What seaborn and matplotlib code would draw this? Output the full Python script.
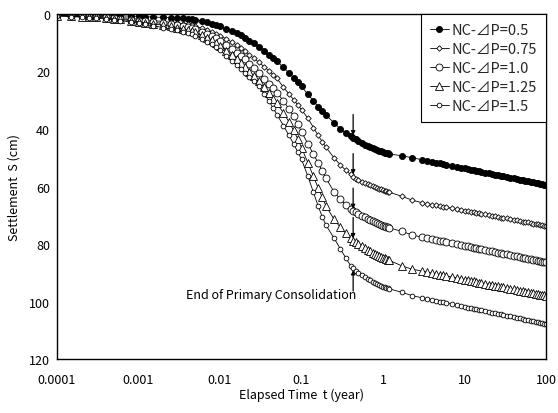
import matplotlib
matplotlib.use("Agg")
import matplotlib.pyplot as plt
import seaborn as sns
import pandas as pd

# Elapsed time (year), shared by every loading case
time_yr = [
    0.0001, 0.00015, 0.0002, 0.00025, 0.0003, 0.0004, 0.0005, 0.0006, 0.0008, 0.001,
    0.0012, 0.0015, 0.002, 0.0025, 0.003, 0.0035, 0.004, 0.0045, 0.005, 0.006,
    0.007, 0.008, 0.009, 0.01, 0.012, 0.014, 0.016, 0.018, 0.02, 0.023,
    0.026, 0.03, 0.035, 0.04, 0.045, 0.05, 0.06, 0.07, 0.08, 0.09,
    0.1, 0.12, 0.14, 0.16, 0.18, 0.2, 0.25, 0.3, 0.35, 0.4,
    0.43, 0.46, 0.5, 0.55, 0.6, 0.65, 0.7, 0.75, 0.8, 0.85,
    0.9, 0.95, 1.0, 1.05, 1.1, 1.15, 1.2, 1.7, 2.3, 3,
    3.5, 4, 4.5, 5, 5.5, 6, 7, 8, 9, 10,
    11, 12, 13, 14, 15, 16, 18, 20, 22, 24,
    26, 28, 30, 33, 36, 40, 44, 48, 52, 56,
    60, 65, 70, 75, 80, 85, 90, 95, 100,
]

# Settlement S (cm) for each load increment
s_dp_050 = [
    0.3, 0.35, 0.4, 0.45, 0.5, 0.55, 0.6, 0.65, 0.75, 0.85,
    0.95, 1.05, 1.2, 1.3, 1.45, 1.55, 1.65, 1.8, 2.0, 2.4,
    2.9, 3.4, 3.9, 4.3, 5.2, 6.0, 6.7, 7.4, 8.2, 9.3,
    10.2, 11.4, 12.9, 14.2, 15.4, 16.5, 18.6, 20.5, 22.2, 23.8,
    25.2, 28.0, 30.2, 32.2, 33.8, 35.2, 37.8, 40.0, 41.5, 42.5,
    43.0, 43.5, 44.1, 44.8, 45.4, 45.9, 46.3, 46.7, 47.0, 47.3,
    47.6, 47.8, 48.0, 48.2, 48.4, 48.5, 48.7, 49.3, 50.0, 50.7,
    51.1, 51.4, 51.7, 52.0, 52.2, 52.4, 52.8, 53.1, 53.4, 53.7,
    53.9, 54.2, 54.4, 54.5, 54.7, 54.9, 55.2, 55.4, 55.7, 55.9,
    56.1, 56.3, 56.5, 56.7, 56.9, 57.2, 57.4, 57.7, 57.9, 58.0,
    58.2, 58.4, 58.6, 58.8, 58.9, 59.1, 59.2, 59.4, 59.5,
]
s_dp_075 = [
    0.4, 0.5, 0.6, 0.7, 0.8, 1.0, 1.1, 1.25, 1.5, 1.8,
    2.0, 2.3, 2.6, 2.9, 3.2, 3.4, 3.6, 3.9, 4.3, 5.0,
    5.7, 6.3, 6.9, 7.5, 8.7, 9.8, 10.8, 11.8, 12.8, 14.2,
    15.4, 16.8, 18.4, 19.8, 21.1, 22.4, 25.5, 27.8, 29.8, 31.6,
    33.3, 36.3, 39.5, 42.2, 44.5, 46.4, 50.0, 52.5, 54.4, 55.8,
    56.6, 57.3, 57.8, 58.3, 58.8, 59.2, 59.6, 59.9, 60.2, 60.5,
    60.8, 61.0, 61.2, 61.4, 61.6, 61.8, 62.0, 63.4, 64.8, 65.6,
    66.0, 66.3, 66.5, 66.8, 67.0, 67.2, 67.6, 67.9, 68.1, 68.4,
    68.6, 68.8, 69.0, 69.2, 69.3, 69.5, 69.7, 70.0, 70.2, 70.4,
    70.6, 70.8, 70.9, 71.1, 71.3, 71.6, 71.8, 72.0, 72.2, 72.4,
    72.5, 72.7, 72.9, 73.0, 73.2, 73.3, 73.5, 73.6, 73.7,
]
s_dp_100 = [
    0.5, 0.65, 0.8, 0.9, 1.0, 1.2, 1.4, 1.6, 2.0, 2.3,
    2.6, 2.9, 3.3, 3.6, 3.9, 4.2, 4.4, 4.8, 5.3, 6.1,
    6.9, 7.7, 8.5, 9.3, 10.8, 12.2, 13.4, 14.6, 15.8, 17.4,
    18.9, 20.6, 22.6, 24.3, 25.9, 27.4, 30.2, 33.0, 35.5, 38.2,
    41.0, 45.2, 48.8, 51.8, 54.6, 57.2, 61.8, 64.5, 66.3, 67.8,
    68.6, 69.0, 69.5, 70.1, 70.7, 71.2, 71.6, 72.0, 72.4, 72.7,
    73.0, 73.3, 73.6, 73.8, 74.0, 74.2, 74.4, 75.6, 76.9, 77.6,
    78.0, 78.3, 78.6, 78.9, 79.1, 79.3, 79.7, 80.0, 80.3, 80.6,
    80.8, 81.1, 81.3, 81.4, 81.6, 81.8, 82.1, 82.3, 82.6, 82.8,
    83.0, 83.2, 83.4, 83.6, 83.8, 84.1, 84.3, 84.6, 84.8, 84.9,
    85.1, 85.3, 85.5, 85.7, 85.8, 86.0, 86.1, 86.3, 86.4,
]
s_dp_125 = [
    0.6, 0.8, 0.95, 1.1, 1.2, 1.45, 1.7, 1.9, 2.3, 2.7,
    3.0, 3.4, 3.9, 4.3, 4.7, 5.1, 5.5, 5.9, 6.4, 7.4,
    8.3, 9.2, 10.1, 11.0, 12.8, 14.4, 15.8, 17.2, 18.4, 20.1,
    21.6, 23.4, 25.5, 27.5, 29.4, 31.1, 34.4, 37.5, 40.5, 43.5,
    46.5, 51.8, 56.5, 60.5, 63.8, 66.8, 71.4, 74.2, 76.3, 78.0,
    78.8, 79.4, 80.0, 80.7, 81.4, 82.0, 82.5, 83.0, 83.4, 83.8,
    84.1, 84.4, 84.7, 85.0, 85.3, 85.5, 85.7, 87.6, 88.8, 89.4,
    89.8, 90.1, 90.4, 90.7, 90.9, 91.1, 91.5, 91.8, 92.1, 92.4,
    92.6, 92.8, 93.0, 93.2, 93.4, 93.5, 93.8, 94.1, 94.3, 94.5,
    94.7, 94.9, 95.1, 95.3, 95.5, 95.8, 96.0, 96.2, 96.4, 96.6,
    96.8, 97.0, 97.1, 97.3, 97.5, 97.6, 97.7, 97.9, 98.0,
]
s_dp_150 = [
    0.7, 0.9, 1.1, 1.3, 1.45, 1.75, 2.0, 2.3, 2.8, 3.2,
    3.6, 4.1, 4.7, 5.2, 5.7, 6.1, 6.6, 7.1, 7.6, 8.6,
    9.6, 10.6, 11.6, 12.6, 14.6, 16.3, 17.8, 19.2, 20.4, 22.0,
    23.4, 25.2, 27.8, 30.4, 32.8, 35.0, 38.8, 42.2, 45.2, 48.0,
    50.6, 56.5, 62.0, 66.8, 70.6, 73.5, 77.9, 81.7, 84.9, 87.5,
    88.5, 89.4, 90.1, 90.8, 91.5, 92.1, 92.6, 93.1, 93.5, 93.9,
    94.2, 94.5, 94.8, 95.0, 95.2, 95.4, 95.6, 96.8, 98.0, 98.7,
    99.1, 99.4, 99.7, 100.0, 100.3, 100.5, 100.9, 101.2, 101.5, 101.8,
    102.1, 102.3, 102.5, 102.7, 102.9, 103.0, 103.3, 103.6, 103.9, 104.1,
    104.3, 104.5, 104.7, 104.9, 105.1, 105.4, 105.7, 105.9, 106.1, 106.3,
    106.5, 106.7, 106.9, 107.0, 107.2, 107.4, 107.5, 107.7, 107.8,
]

series_labels = ["NC-⊿P=0.5", "NC-⊿P=0.75", "NC-⊿P=1.0", "NC-⊿P=1.25", "NC-⊿P=1.5"]
series_values = [s_dp_050, s_dp_075, s_dp_100, s_dp_125, s_dp_150]

# End of primary consolidation (year)
eop_time = 0.43

x_ticks = [0.0001, 0.001, 0.01, 0.1, 1, 10, 100]
x_tick_labels = ["0.0001", "0.001", "0.01", "0.1", "1", "10", "100"]
y_ticks = [0, 20, 40, 60, 80, 100, 120]

sns.set_theme(style="white")
plt.rcParams["font.family"] = ["Noto Sans CJK JP", "DejaVu Sans"]

marker_styles = [
    dict(marker="o", markersize=4.4, markerfacecolor="black"),
    dict(marker="D", markersize=2.8, markerfacecolor="white"),
    dict(marker="o", markersize=5.0, markerfacecolor="white"),
    dict(marker="^", markersize=5.2, markerfacecolor="white"),
    dict(marker="o", markersize=3.4, markerfacecolor="white"),
]

fig = plt.figure(figsize=(5.58, 4.14), dpi=100)
ax = fig.add_axes([0.1022, 0.1304, 0.8763, 0.8334])

for label, values, mstyle in zip(series_labels, series_values, marker_styles):
    df = pd.DataFrame({"t": time_yr, "S": values})
    sns.lineplot(data=df, x="t", y="S", ax=ax, color="black", linewidth=0.6,
                 markeredgecolor="black", markeredgewidth=0.6, label=label,
                 estimator=None, sort=True, **mstyle)

ax.set_xscale("log")
ax.set_xlim(1e-4, 100)
ax.set_ylim(120, 0)
ax.set_xticks(x_ticks)
ax.set_xticklabels(x_tick_labels)
ax.set_yticks(y_ticks)
ax.minorticks_off()
ax.tick_params(axis="both", length=0, labelsize=9, colors="black")
ax.tick_params(axis="x", pad=10)
ax.tick_params(axis="y", pad=5)

for side in ["left", "right", "top", "bottom"]:
    ax.spines[side].set_color("black")
    ax.spines[side].set_linewidth(1.0)

ax.set_xlabel("Elapsed Time  t (year)", fontsize=9, color="black", labelpad=1)
ax.set_ylabel("Settlement  S (cm)", fontsize=9, color="black", labelpad=6)

# Arrows marking the end of primary consolidation on each curve
eop_index = time_yr.index(eop_time)
for i, values in enumerate(series_values):
    s_eop = values[eop_index]
    below = i == len(series_values) - 1
    ax.annotate("", xy=(eop_time, s_eop + (0.6 if below else -0.8)),
                xytext=(0, -15 if below else 15), textcoords="offset points",
                arrowprops=dict(arrowstyle="-|>", color="black", lw=0.9,
                                mutation_scale=6, shrinkA=0, shrinkB=0))

ax.text(0.042, 97.5, "End of Primary Consolidation", ha="center", va="center",
        fontsize=9, color="black")

leg = ax.legend(loc="upper right", bbox_to_anchor=(1.0, 1.0), borderaxespad=0,
                frameon=True, fancybox=False, framealpha=1, edgecolor="black",
                fontsize=10.5, handlelength=1.3, handletextpad=0.2,
                labelspacing=0.35, borderpad=0.6, numpoints=1)
leg.get_frame().set_linewidth(0.8)

fig.savefig("out.png", dpi=100)
